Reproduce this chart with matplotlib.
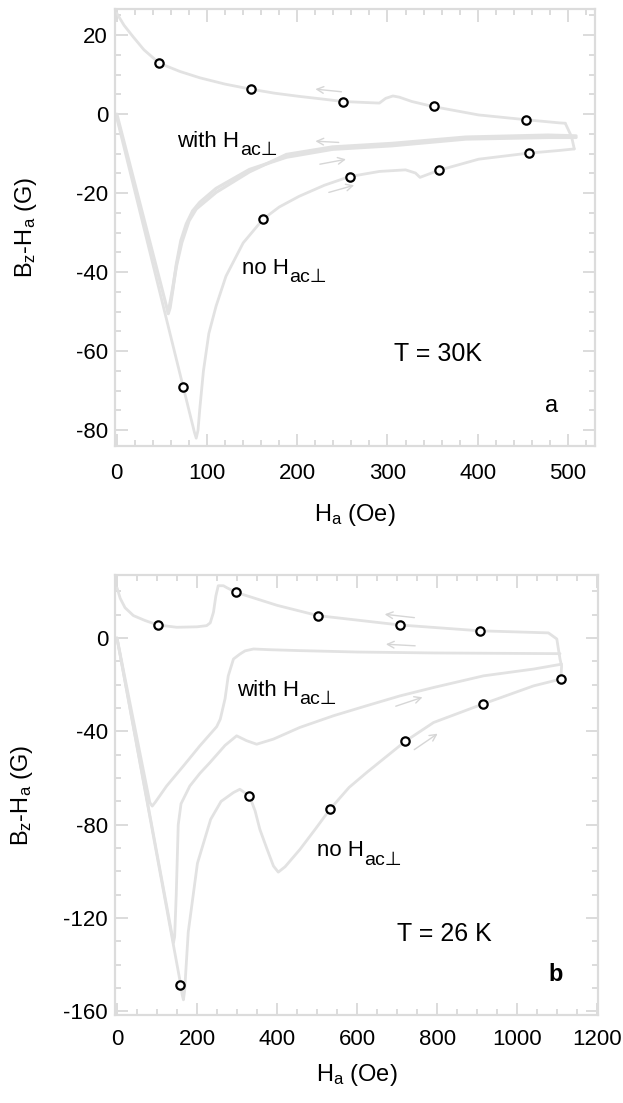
import matplotlib
matplotlib.use("Agg")
import matplotlib.pyplot as plt
from matplotlib.ticker import MultipleLocator

plt.rcParams['font.family'] = ['Liberation Sans', 'DejaVu Sans']
plt.rcParams['mathtext.fontset'] = 'custom'
plt.rcParams['mathtext.rm'] = 'Liberation Sans'
plt.rcParams['mathtext.it'] = 'Liberation Sans'
plt.rcParams['mathtext.bf'] = 'Liberation Sans:bold'
plt.rcParams['mathtext.sf'] = 'DejaVu Sans'
plt.rcParams['mathtext.fallback'] = 'stixsans'
plt.rcParams['mathtext.default'] = 'regular'
plt.rcParams['axes.unicode_minus'] = False

# ---------------- Panel a : T = 30 K ----------------
a_noH_desc_x = [497, 490, 453, 401, 351, 327, 313, 306, 298, 291, 270, 251, 225, 202, 175, 149, 120, 92, 70, 47, 30, 18, 8, 0]
a_noH_desc_y = [-2.3, -2.2, -1.4, -0.2, 1.9, 3.2, 4.3, 4.6, 4.0, 2.8, 3.0, 3.2, 3.9, 4.5, 5.3, 6.3, 7.6, 9.2, 10.8, 12.9, 16.3, 19.6, 22.5, 25.5]
a_noH_asc_x = [0, 73, 86, 88, 90, 92, 96, 102, 110, 121, 140, 162, 180, 202, 230, 258, 291, 320, 331, 336, 357, 401, 455, 490, 507]
a_noH_asc_y = [-1.0, -68.5, -80.5, -82.0, -80.0, -74.5, -65.0, -55.5, -48.6, -41.0, -32.6, -26.6, -23.5, -20.8, -18.0, -15.8, -14.5, -14.1, -14.9, -16.0, -14.2, -11.4, -9.9, -9.2, -8.8]
a_right_x = [507, 504, 497]
a_right_y = [-8.8, -5.7, -2.3]
a_with_asc_x = [0, 56, 57, 59, 62, 66, 71, 77, 84, 92, 110, 147, 188, 239, 305, 387, 478, 509]
a_with_asc_y = [0.0, -49.5, -50.5, -49.0, -44.5, -38.0, -32.0, -27.8, -24.5, -22.3, -18.8, -14.0, -10.9, -8.9, -8.0, -6.3, -5.9, -5.9]
a_with_desc_x = [509, 478, 387, 305, 239, 188, 147, 110, 88, 80, 72, 66, 62, 58]
a_with_desc_y = [-5.5, -5.3, -5.8, -7.4, -8.3, -10.2, -14.6, -19.8, -24.0, -27.0, -32.5, -38.5, -44.0, -49.0]
a_mark_x = [47, 149, 251, 351, 454, 73, 162, 258, 357, 457]
a_mark_y = [12.9, 6.3, 3.2, 2.1, -1.4, -69.0, -26.5, -15.8, -14.1, -9.8]
# arrows: (tail x, tail y, head x, head y)
a_arrows = [(252, 5.6, 217, 6.4), (249, -7.2, 217, -6.8), (222, -12.8, 257, -11.3), (232, -20.0, 266, -17.8)]

# ---------------- Panel b : T = 26 K ----------------
b_noH_asc_x = [0, 157, 163, 166, 169, 178, 201, 234, 260, 291, 307, 331, 345, 357, 374, 391, 403, 420, 457, 495, 532, 580, 624, 720, 791, 914, 1041, 1109]
b_noH_asc_y = [0, -146.5, -153, -155, -151, -126, -96.5, -77.7, -70, -66.2, -64.8, -67.7, -74, -82, -90, -97.7, -100.3, -98, -90.6, -82, -73.4, -64, -57.6, -44.3, -36.2, -28.3, -20.5, -17.6]
b_noH_desc_x = [1109, 1111, 1107, 1099, 1078, 906, 706, 502, 400, 297, 275, 266, 253, 247, 241, 233, 224, 200, 149, 102, 70, 41, 20, 8, 0]
b_noH_desc_y = [-17.6, -12.0, -9.0, -0.4, 2.2, 3.1, 5.6, 9.6, 14.0, 19.6, 21.5, 22.4, 22.4, 18.0, 11.0, 6.5, 5.3, 4.8, 4.6, 5.6, 7.5, 9.6, 13.0, 17.0, 21.5]
b_with_asc_x = [0, 139, 141, 144, 148, 153, 160, 182, 207, 232, 270, 299, 324, 349, 391, 457, 541, 624, 707, 791, 916, 1041, 1111]
b_with_asc_y = [0, -128.5, -130.6, -128, -110, -80, -71, -63.4, -58, -53.4, -46, -41.9, -44, -45.5, -43.3, -38.3, -33.3, -29, -24.8, -21.2, -16.2, -13.3, -11.2]
b_with_desc_x = [1107, 1000, 791, 600, 457, 380, 341, 320, 307, 291, 278, 270, 258, 249, 207, 166, 124, 95, 88, 82, 0]
b_with_desc_y = [-6.7, -6.6, -6.4, -6.0, -5.4, -5.0, -4.7, -5.5, -6.9, -9.0, -16.2, -26.0, -34.8, -38.0, -46.2, -54.8, -63.4, -70.5, -72.0, -70.5, 0]
b_mark_x = [102, 297, 502, 706, 906, 157, 331, 532, 720, 914, 1109]
b_mark_y = [5.6, 19.6, 9.6, 5.6, 3.1, -148.8, -67.7, -73.4, -44.3, -28.3, -17.6]
b_arrows = [(750, 8.6, 662, 10.3), (752, -3.4, 665, -2.6), (690, -29.6, 770, -25.0), (737, -48.5, 807, -40.3)]

LINE = '#e2e2e2'
FRAME = '#dcdcdc'
ARROW = '#d6d6d6'

fig = plt.figure(figsize=(6.23, 11.03), dpi=100)
axA = fig.add_axes([0.1846, 0.5956, 0.7705, 0.3962])
axB = fig.add_axes([0.1846, 0.0798, 0.7753, 0.3989])


def style(ax, xmaj, xmin, ymaj, ymin, xpad):
    for s in ax.spines.values():
        s.set_color(FRAME)
        s.set_linewidth(1.6)
    ax.xaxis.set_major_locator(MultipleLocator(xmaj))
    ax.xaxis.set_minor_locator(MultipleLocator(xmin))
    ax.yaxis.set_major_locator(MultipleLocator(ymaj))
    ax.yaxis.set_minor_locator(MultipleLocator(ymin))
    ax.tick_params(which='both', direction='in', top=True, right=True, color=FRAME, width=1.4)
    ax.tick_params(which='major', length=9)
    ax.tick_params(which='minor', length=4.5)
    ax.tick_params(axis='x', which='major', pad=xpad, labelsize=16)
    ax.tick_params(axis='y', which='major', pad=5, labelsize=16)


def draw(ax, curves, mx, my, arrows):
    for (cx, cy, lw) in curves:
        ax.plot(cx, cy, color=LINE, lw=lw, solid_joinstyle='round', solid_capstyle='round', zorder=2)
    for (tx, ty, hx, hy) in arrows:
        ax.annotate('', xy=(hx, hy), xytext=(tx, ty),
                    arrowprops=dict(arrowstyle='->', color=ARROW, lw=1.0, mutation_scale=12), zorder=2)
    ax.plot(mx, my, 'o', ms=6, mfc='white', mec='black', mew=1.6, zorder=3)


def hlabel(ax, x, y, prefix):
    t = ax.text(x, y, prefix + 'H', fontsize=16, va='baseline', ha='left')
    ax.annotate('ac\u22a5', xy=(1, 0), xycoords=t, xytext=(0.5, -7.5), textcoords='offset pixels',
                fontsize=14, va='bottom', ha='left', family=['Liberation Sans', 'DejaVu Sans'])


draw(axA, [(a_noH_desc_x, a_noH_desc_y, 2.0), (a_noH_asc_x, a_noH_asc_y, 2.0), (a_right_x, a_right_y, 2.0),
           (a_with_asc_x, a_with_asc_y, 2.3), (a_with_desc_x, a_with_desc_y, 2.3)],
     a_mark_x, a_mark_y, a_arrows)
draw(axB, [(b_noH_asc_x, b_noH_asc_y, 2.0), (b_noH_desc_x, b_noH_desc_y, 2.0),
           (b_with_asc_x, b_with_asc_y, 2.0), (b_with_desc_x, b_with_desc_y, 2.0)],
     b_mark_x, b_mark_y, b_arrows)

axA.set_xlim(-2, 530)
axA.set_ylim(-84, 26.6)
style(axA, 100, 20, 20, 5, 12)
axB.set_xlim(-5, 1202)
axB.set_ylim(-161.5, 27)
style(axB, 200, 50, 40, 10, 10)

for ax in (axA, axB):
    ax.set_xlabel('H$_a$ (Oe)', fontsize=17)
    ax.set_ylabel('B$_z$-H$_a$ (G)', fontsize=17)
axA.xaxis.set_label_coords(0.5, -0.128)
axB.xaxis.set_label_coords(0.5, -0.108)
axA.yaxis.set_label_coords(-0.158, 0.5)
axB.yaxis.set_label_coords(-0.165, 0.5)

hlabel(axA, 67, -8.2, 'with ')
hlabel(axA, 139, -40.4, 'no ')
axA.text(307, -62.5, 'T = 30K', fontsize=18, va='baseline', ha='left')
axA.text(475, -75.5, 'a', fontsize=17, va='baseline', ha='left')

hlabel(axB, 300, -24.8, 'with ')
hlabel(axB, 500, -93.4, 'no ')
axB.text(700, -129.9, 'T = 26 K', fontsize=18, va='baseline', ha='left')
axB.text(1078, -147.1, 'b', fontsize=17, fontweight='bold', va='baseline', ha='left')

fig.savefig('out.png', dpi=100)
